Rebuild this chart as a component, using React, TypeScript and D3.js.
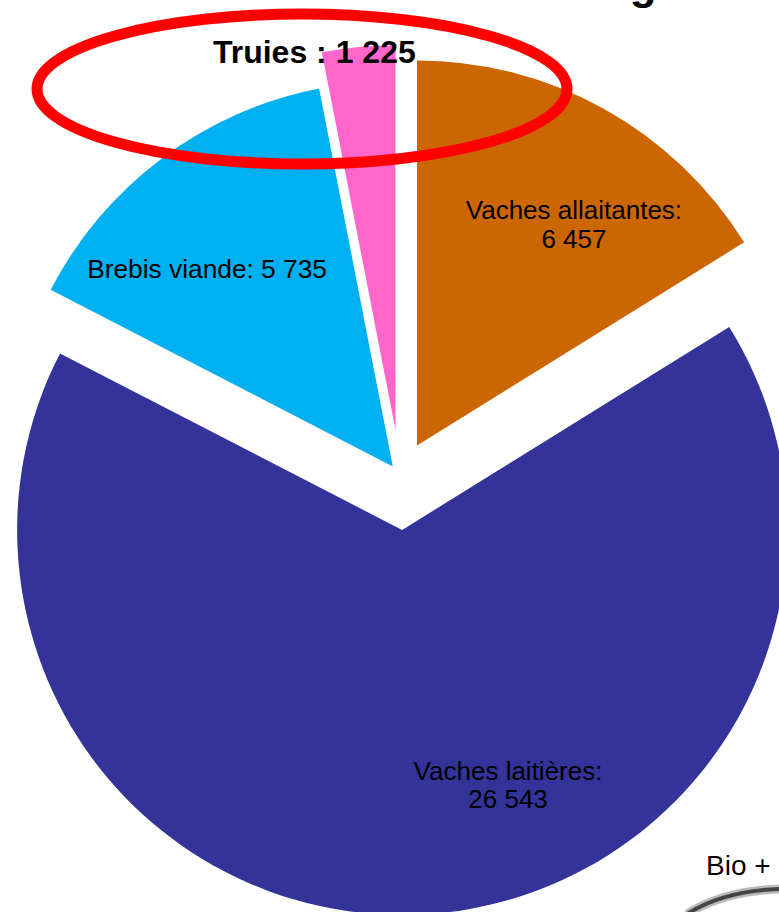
import React, { useEffect, useRef } from "react"
import * as d3 from "d3"

const categories = ["Vaches allaitantes", "Vaches laitières", "Brebis viande", "Truies"]
const values = [6457, 26543, 5735, 1225]
const valueLabels = ["6 457", "26 543", "5 735", "1 225"]
const colors = ["#CC6600", "#333399", "#00B0F0", "#FF66CC"]
const explode = [35, 54, 12, 46]
// label placement: distance from slice tip and angle nudge (degrees)
const labelRadius = [271, 276, 271, 387]
const labelNudge = [6.3, -20.3, -6.4, -6.6]

const width = 779
const height = 912

function App() {
    const ref = useRef<SVGSVGElement>(null)

    useEffect(() => {
        const svg = d3.select(ref.current)
        svg.selectAll("*").remove()
        const cx = 400
        const cy = 476
        const radius = 385
        const font = "'Liberation Sans', Arial, sans-serif"

        const pie = d3.pie<number>().sort(null).startAngle(0).endAngle(2 * Math.PI)
        const arcs = pie(values)
        const arc = d3.arc<d3.PieArcDatum<number>>().innerRadius(0).outerRadius(radius)

        const g = svg.append("g").attr("transform", `translate(${cx},${cy})`)

        const slices = g
            .selectAll("g.slice")
            .data(arcs)
            .enter()
            .append("g")
            .attr("class", "slice")
            .attr("transform", (d, i) => {
                const mid = (d.startAngle + d.endAngle) / 2
                return `translate(${Math.sin(mid) * explode[i]},${-Math.cos(mid) * explode[i]})`
            })

        slices
            .append("path")
            .attr("d", d => arc(d))
            .attr("fill", (d, i) => colors[i])

        slices.each(function (d, i) {
            const mid = (d.startAngle + d.endAngle) / 2 + (labelNudge[i] * Math.PI) / 180
            const lx = Math.sin(mid) * labelRadius[i]
            const ly = -Math.cos(mid) * labelRadius[i]
            const sel = d3.select(this)
            if (i === 3) {
                sel.append("text")
                    .attr("x", lx)
                    .attr("y", ly + 11)
                    .attr("text-anchor", "middle")
                    .attr("font-family", font)
                    .attr("font-weight", "bold")
                    .attr("font-size", 32)
                    .attr("fill", "#000")
                    .text(`${categories[i]} : ${valueLabels[i]}`)
            } else if (i === 2) {
                sel.append("text")
                    .attr("x", lx)
                    .attr("y", ly + 9.3)
                    .attr("text-anchor", "middle")
                    .attr("font-family", font)
                    .attr("font-size", 26.3)
                    .attr("fill", "#000")
                    .text(`${categories[i]}: ${valueLabels[i]}`)
            } else {
                const t = sel.append("text")
                    .attr("text-anchor", "middle")
                    .attr("font-family", font)
                    .attr("font-size", 26)
                    .attr("fill", "#000")
                t.append("tspan").attr("x", lx).attr("y", ly - 5).text(`${categories[i]}:`)
                t.append("tspan").attr("x", lx).attr("dy", 28.5).text(valueLabels[i])
            }
        })

        // cropped title, only the tail of the "g" shows
        svg.append("text")
            .attr("x", 708)
            .attr("y", -1)
            .attr("text-anchor", "end")
            .attr("font-family", font)
            .attr("font-weight", "bold")
            .attr("font-size", 44)
            .attr("fill", "#000")
            .text("Nombre d'animaux bio en Bretagne")

        // hand drawn highlight
        svg.append("ellipse")
            .attr("cx", 302)
            .attr("cy", 89)
            .attr("rx", 265)
            .attr("ry", 75)
            .attr("fill", "none")
            .attr("stroke", "#FF0000")
            .attr("stroke-width", 11)

        svg.append("text")
            .attr("x", 706)
            .attr("y", 875)
            .attr("font-family", font)
            .attr("font-size", 28)
            .attr("fill", "#000")
            .text("Bio +")

        svg.append("path")
            .attr("d", "M687,914 Q725,890 782,889")
            .attr("fill", "none")
            .attr("stroke", "#bbb")
            .attr("stroke-width", 9)
        svg.append("path")
            .attr("d", "M687,914 Q725,890 782,889")
            .attr("fill", "none")
            .attr("stroke", "#444")
            .attr("stroke-width", 4)
    }, [])

    return (
        <svg
            ref={ref}
            width={width}
            height={height}
            style={{ position: "absolute", left: 0, top: 0, background: "#fff", overflow: "hidden" }}
        />
    )
}

export default App
